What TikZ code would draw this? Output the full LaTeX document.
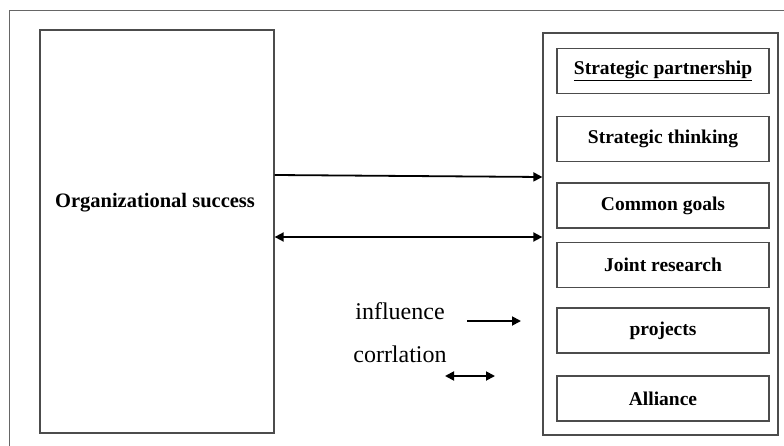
\documentclass[tikz,border=0pt]{standalone}
\usepackage{fontspec}
\setmainfont{Liberation Serif}
\usetikzlibrary{arrows.meta}

\tikzset{
  box/.style={draw=black!70, line width=1.3pt, inner sep=0pt},
  factor/.style={box, minimum width=212pt, minimum height=45pt,
    font=\fontsize{19.5}{23}\selectfont\bfseries},
  legend/.style={font=\fontsize{24}{28}\selectfont},
  arrow/.style={line width=1.8pt, -{Triangle[length=9pt,width=9pt]}},
  twoway/.style={line width=1.8pt, {Triangle[length=9pt,width=9pt]}-{Triangle[length=9pt,width=9pt]}}
}

\begin{document}
\begin{tikzpicture}[x=1pt, y=-1pt]
    \useasboundingbox (0,0) rectangle (784,446);
    % outer frame (only top and left edge visible)
    \draw[black!60, line width=1pt] (9,446) -- (9,11) -- (784,11);

    % left block
    \node[box, minimum width=234pt, minimum height=403pt] (success) at (157,231.5) {};
    \node[font=\fontsize{20.5}{24}\selectfont\bfseries] (successlabel) at (155,203) {Organizational success};

    % right block with its factors
    \node[box, minimum width=235pt, minimum height=402pt] (factors) at (660.5,234) {};
    \node[factor] (partner) at (663,71) {\underline{Strategic partnership}};
    \node[factor] (thinking) at (663,139) {Strategic thinking};
    \node[factor] (goals) at (663,205.5) {Common goals};
    \node[factor] (research) at (663,265) {Joint research};
    \node[factor] (projects) at (663,330.5) {projects};
    \node[factor] (alliance) at (663,398.5) {Alliance};

    % links
    \coordinate (linkA) at (0,175);
    \coordinate (linkB) at (0,177);
    \coordinate (linkC) at (0,237);
    \draw[arrow] (success.east |- linkA) -- (factors.west |- linkB);
    \draw[twoway] (success.east |- linkC) -- (factors.west |- linkC);

    % legend
    \node[legend] (influence) at (400,311) {influence};
    \node[legend] (corrlation) at (400,354) {corrlation};
    \coordinate (infA) at (467,321);
    \coordinate (infB) at (521,321);
    \coordinate (corA) at (445,376);
    \coordinate (corB) at (495,376);
    \draw[arrow] (infA) -- (infB);
    \draw[twoway] (corA) -- (corB);
\end{tikzpicture}
\end{document}
